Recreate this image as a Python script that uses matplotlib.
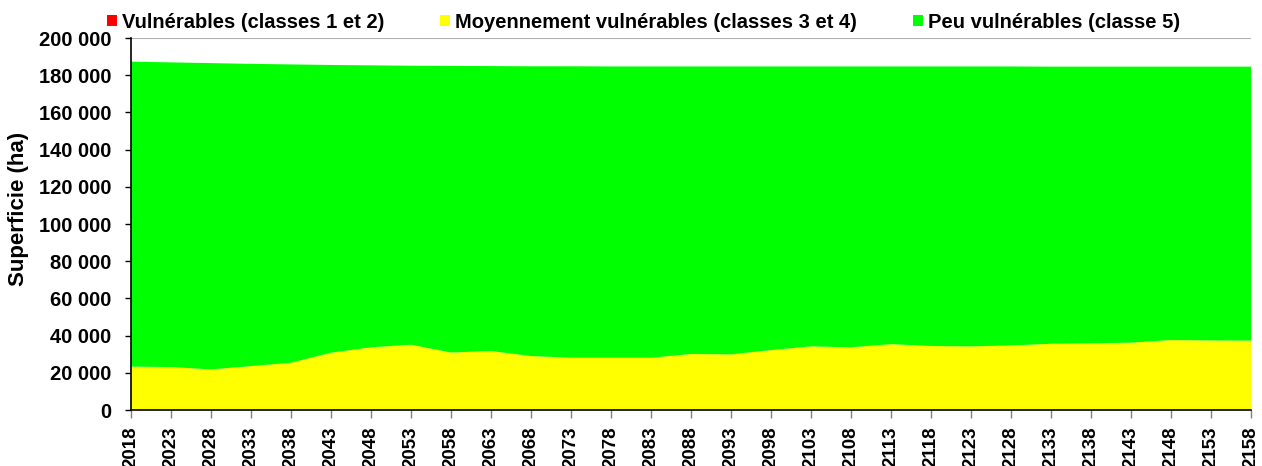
import numpy as np
import matplotlib.pyplot as plt
from matplotlib.patches import Patch
from matplotlib.ticker import FuncFormatter

plt.rcParams['font.family'] = ['Liberation Sans', 'DejaVu Sans']
plt.rcParams['font.weight'] = 'bold'

years = list(range(2018, 2159, 5))

# Superficie (ha) per class
vulnerables = [0] * 29
moyens = [23300, 23100, 21800, 23600, 25400, 30800, 33700, 35100, 30900, 31700,
          29000, 28100, 28100, 28100, 30100, 29900, 32200, 34200, 33700, 35400,
          34400, 34200, 34700, 35600, 35800, 36200, 37600, 37400, 37300]
total = [187300, 186900, 186500, 186100, 185800, 185500, 185300, 185100, 185000, 184900,
         184800, 184800, 184700, 184700, 184700, 184700, 184700, 184700, 184700, 184700,
         184700, 184700, 184700, 184600, 184600, 184600, 184600, 184600, 184600]
peu = [t - m - v for t, m, v in zip(total, moyens, vulnerables)]

labels = ['Vulnérables (classes 1 et 2)',
          'Moyennement vulnérables (classes 3 et 4)',
          'Peu vulnérables (classe 5)']
colors = ['#ff0000', '#ffff00', '#00ff00']

fig = plt.figure(figsize=(12.62, 4.66), dpi=100)
ax = fig.add_axes([131 / 1262, 1 - 410 / 466, 1120 / 1262, 372 / 466])

x = np.arange(len(years))
ax.stackplot(x, vulnerables, moyens, peu, colors=colors, linewidth=0, zorder=2)

ax.set_xlim(0, len(years) - 1)
ax.set_ylim(0, 200000)
ax.set_yticks(np.arange(0, 200001, 20000))
ax.yaxis.set_major_formatter(FuncFormatter(lambda v, p: f"{int(v):,}".replace(',', ' ')))
ax.set_xticks(x)
ax.set_xticklabels([str(y) for y in years], rotation=90, fontsize=13.5, fontweight='bold')
for t in ax.get_yticklabels():
    t.set_fontsize(14.5)
    t.set_fontweight('bold')

ax.grid(axis='y', color='#b0b0b0', linewidth=1.5, zorder=0)
ax.set_axisbelow(True)
ax.spines['top'].set_visible(False)
ax.spines['right'].set_visible(False)
ax.spines['left'].set_linewidth(1.2)
ax.spines['bottom'].set_linewidth(1.2)
ax.tick_params(axis='y', direction='out', length=4, width=1, pad=10)
ax.tick_params(axis='x', direction='out', length=6, width=1, color='#808080', pad=6)

ax.set_ylabel('Superficie (ha)', fontsize=16, fontweight='bold')
ax.yaxis.set_label_coords(-102 / 1120, 0.54)

handles = [Patch(facecolor=c, edgecolor='none') for c in colors]
fig.legend(handles, labels, loc='upper center', bbox_to_anchor=(0.51, 1.012), ncol=3,
           frameon=False, prop={'size': 14.5, 'weight': 'bold'},
           handlelength=0.5, handleheight=0.5, handletextpad=0.25, columnspacing=2.75)

fig.savefig('out.png', dpi=100)
